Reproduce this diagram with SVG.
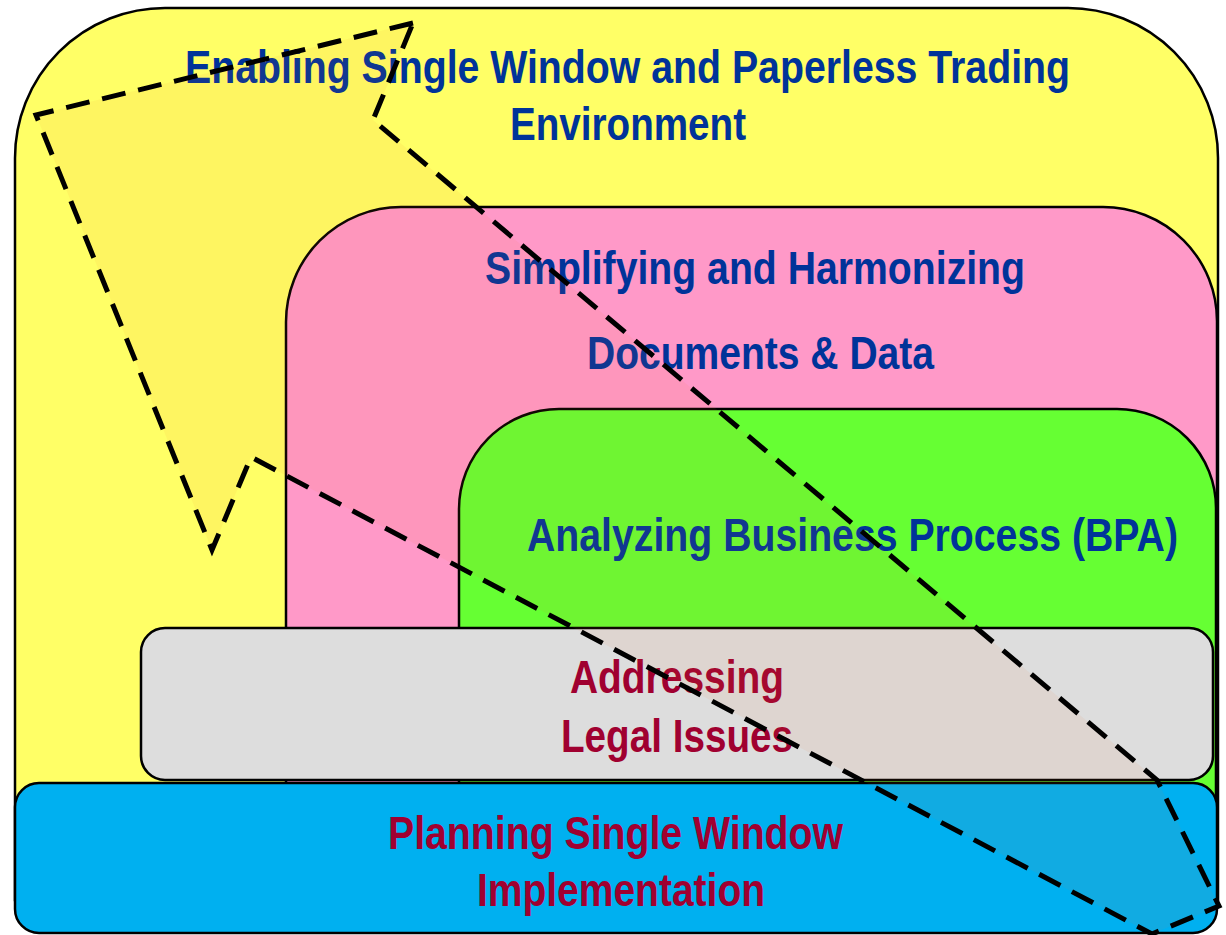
<svg xmlns="http://www.w3.org/2000/svg" width="1226" height="935" viewBox="0 0 1226 935">
<style>
.box{stroke:#000;stroke-width:2.5}
.t{font-family:"Liberation Sans Narrow","Liberation Sans",Arial,sans-serif;font-weight:bold;font-size:46px;text-anchor:start}
.blue{fill:#003399}
.red{fill:#A00030}
.arrow{fill:#F06E28;fill-opacity:0.07;stroke:#000;stroke-width:5;stroke-dasharray:24 13;stroke-linejoin:miter}
</style>
<rect width="1226" height="935" fill="#fff"/>
<g id="node-enabling">
<path class="box" fill="#FFFF66" d="M15,900 V158 A150,150 0 0 1 165,8 H1068 A150,150 0 0 1 1218,158 V900 Z"/>
<text class="t blue" x="185" y="83" textLength="885" lengthAdjust="spacingAndGlyphs">Enabling Single Window and Paperless Trading</text>
<text class="t blue" x="510" y="140" textLength="236" lengthAdjust="spacingAndGlyphs">Environment</text>
</g>
<g id="node-simplifying">
<path class="box" fill="#FF99C8" d="M286,800 V322 A115,115 0 0 1 401,207 H1103 A114,114 0 0 1 1217,321 V800 Z"/>
<text class="t blue" x="485" y="284" textLength="540" lengthAdjust="spacingAndGlyphs">Simplifying and Harmonizing</text>
<text class="t blue" x="587" y="369" textLength="347" lengthAdjust="spacingAndGlyphs">Documents &amp; Data</text>
</g>
<g id="node-analyzing">
<path class="box" fill="#66FF33" d="M459,800 V509 A100,100 0 0 1 559,409 H1117 A99,99 0 0 1 1216,508 V800 Z"/>
<text class="t blue" x="527" y="551" textLength="651" lengthAdjust="spacingAndGlyphs">Analyzing Business Process (BPA)</text>
</g>
<g id="node-legal">
<rect class="box" fill="#DDDDDD" x="141" y="628" width="1072" height="152" rx="24" ry="24"/>
<text class="t red" x="570" y="693" textLength="214" lengthAdjust="spacingAndGlyphs">Addressing</text>
<text class="t red" x="561" y="752" textLength="232" lengthAdjust="spacingAndGlyphs">Legal Issues</text>
</g>
<g id="node-planning">
<rect class="box" fill="#00B0F0" x="15" y="783" width="1202" height="150" rx="24" ry="24"/>
<text class="t red" x="388" y="849" textLength="455" lengthAdjust="spacingAndGlyphs">Planning Single Window</text>
<text class="t red" x="477" y="906" textLength="288" lengthAdjust="spacingAndGlyphs">Implementation</text>
</g>
<g id="connectors">
<path class="arrow" d="M413,23 L36,115 L212,550 L251,457 L1152,934 L1219,906 L1157,780 L373,120 Z"/>
</g>
</svg>
